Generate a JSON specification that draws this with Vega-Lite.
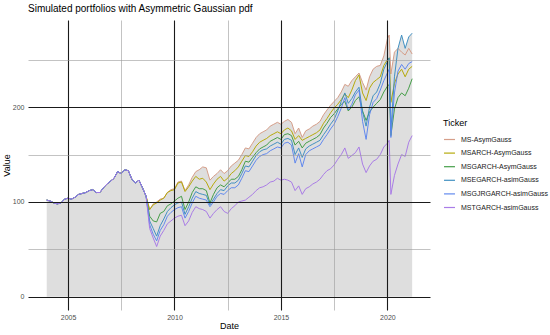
{
"$schema":"https://vega.github.io/schema/vega-lite/v6.json",
"width":402,"height":290,
"autosize":{"type":"none"},
"padding":{"left":28,"top":20,"right":120,"bottom":25},
"background":"white",
"title":{"text":"Simulated portfolios with Asymmetric Gaussian pdf","anchor":"start","frame":"group","fontSize":10,"fontWeight":"normal","font":"Liberation Sans","color":"black","offset":6},
"config":{"view":{"stroke":null},"axis":{"domain":false,"ticks":false,"labelFont":"Liberation Sans","labelFontSize":7,"labelColor":"#4d4d4d","titleFont":"Liberation Sans","titleFontSize":9,"titleFontWeight":"normal","titleColor":"black","gridOpacity":1,"labelOverlap":false,"labelFlush":false},"legend":{"labelFont":"Liberation Sans","titleFont":"Liberation Sans"}},
"datasets":{
"names":[{"k":"a","Ticker":"MS-AsymGauss"},{"k":"b","Ticker":"MSARCH-AsymGauss"},{"k":"c","Ticker":"MSGARCH-AsymGauss"},{"k":"e","Ticker":"MSEGARCH-asimGauss"},{"k":"f","Ticker":"MSGJRGARCH-asimGauss"},{"k":"g","Ticker":"MSTGARCH-asimGauss"}],
"p":[
{"d":"2004-01","k":"a","v":102},{"d":"2004-01","k":"b","v":102},{"d":"2004-01","k":"c","v":102},{"d":"2004-01","k":"e","v":102},{"d":"2004-01","k":"f","v":102},{"d":"2004-01","k":"g","v":102},
{"d":"2004-03","k":"a","v":101},{"d":"2004-03","k":"b","v":101},{"d":"2004-03","k":"c","v":101},{"d":"2004-03","k":"e","v":101},{"d":"2004-03","k":"f","v":101},{"d":"2004-03","k":"g","v":101},
{"d":"2004-05","k":"a","v":99},{"d":"2004-05","k":"b","v":99},{"d":"2004-05","k":"c","v":99},{"d":"2004-05","k":"e","v":99},{"d":"2004-05","k":"f","v":99},{"d":"2004-05","k":"g","v":99},
{"d":"2004-07","k":"a","v":98},{"d":"2004-07","k":"b","v":98},{"d":"2004-07","k":"c","v":98},{"d":"2004-07","k":"e","v":98},{"d":"2004-07","k":"f","v":98},{"d":"2004-07","k":"g","v":98},
{"d":"2004-09","k":"a","v":99},{"d":"2004-09","k":"b","v":99},{"d":"2004-09","k":"c","v":99},{"d":"2004-09","k":"e","v":99},{"d":"2004-09","k":"f","v":99},{"d":"2004-09","k":"g","v":99},
{"d":"2004-11","k":"a","v":103},{"d":"2004-11","k":"b","v":103},{"d":"2004-11","k":"c","v":103},{"d":"2004-11","k":"e","v":103},{"d":"2004-11","k":"f","v":103},{"d":"2004-11","k":"g","v":103},
{"d":"2005-01","k":"a","v":104},{"d":"2005-01","k":"b","v":104},{"d":"2005-01","k":"c","v":104},{"d":"2005-01","k":"e","v":104},{"d":"2005-01","k":"f","v":104},{"d":"2005-01","k":"g","v":104},
{"d":"2005-03","k":"a","v":103},{"d":"2005-03","k":"b","v":103},{"d":"2005-03","k":"c","v":103},{"d":"2005-03","k":"e","v":103},{"d":"2005-03","k":"f","v":103},{"d":"2005-03","k":"g","v":103},
{"d":"2005-05","k":"a","v":105},{"d":"2005-05","k":"b","v":105},{"d":"2005-05","k":"c","v":105},{"d":"2005-05","k":"e","v":105},{"d":"2005-05","k":"f","v":105},{"d":"2005-05","k":"g","v":105},
{"d":"2005-07","k":"a","v":108},{"d":"2005-07","k":"b","v":108},{"d":"2005-07","k":"c","v":108},{"d":"2005-07","k":"e","v":108},{"d":"2005-07","k":"f","v":108},{"d":"2005-07","k":"g","v":108},
{"d":"2005-09","k":"a","v":109},{"d":"2005-09","k":"b","v":109},{"d":"2005-09","k":"c","v":109},{"d":"2005-09","k":"e","v":109},{"d":"2005-09","k":"f","v":109},{"d":"2005-09","k":"g","v":109},
{"d":"2005-11","k":"a","v":110},{"d":"2005-11","k":"b","v":110},{"d":"2005-11","k":"c","v":110},{"d":"2005-11","k":"e","v":110},{"d":"2005-11","k":"f","v":110},{"d":"2005-11","k":"g","v":110},
{"d":"2006-01","k":"a","v":112},{"d":"2006-01","k":"b","v":112},{"d":"2006-01","k":"c","v":112},{"d":"2006-01","k":"e","v":112},{"d":"2006-01","k":"f","v":112},{"d":"2006-01","k":"g","v":112},
{"d":"2006-03","k":"a","v":113},{"d":"2006-03","k":"b","v":113},{"d":"2006-03","k":"c","v":113},{"d":"2006-03","k":"e","v":113},{"d":"2006-03","k":"f","v":113},{"d":"2006-03","k":"g","v":113},
{"d":"2006-05","k":"a","v":110},{"d":"2006-05","k":"b","v":110},{"d":"2006-05","k":"c","v":110},{"d":"2006-05","k":"e","v":110},{"d":"2006-05","k":"f","v":110},{"d":"2006-05","k":"g","v":110},
{"d":"2006-07","k":"a","v":110},{"d":"2006-07","k":"b","v":110},{"d":"2006-07","k":"c","v":110},{"d":"2006-07","k":"e","v":110},{"d":"2006-07","k":"f","v":110},{"d":"2006-07","k":"g","v":110},
{"d":"2006-09","k":"a","v":115},{"d":"2006-09","k":"b","v":115},{"d":"2006-09","k":"c","v":115},{"d":"2006-09","k":"e","v":115},{"d":"2006-09","k":"f","v":115},{"d":"2006-09","k":"g","v":115},
{"d":"2006-11","k":"a","v":119},{"d":"2006-11","k":"b","v":119},{"d":"2006-11","k":"c","v":119},{"d":"2006-11","k":"e","v":119},{"d":"2006-11","k":"f","v":119},{"d":"2006-11","k":"g","v":119},
{"d":"2007-01","k":"a","v":122},{"d":"2007-01","k":"b","v":122},{"d":"2007-01","k":"c","v":122},{"d":"2007-01","k":"e","v":122},{"d":"2007-01","k":"f","v":122},{"d":"2007-01","k":"g","v":122},
{"d":"2007-03","k":"a","v":125},{"d":"2007-03","k":"b","v":125},{"d":"2007-03","k":"c","v":125},{"d":"2007-03","k":"e","v":125},{"d":"2007-03","k":"f","v":125},{"d":"2007-03","k":"g","v":125},
{"d":"2007-05","k":"a","v":132},{"d":"2007-05","k":"b","v":132},{"d":"2007-05","k":"c","v":132},{"d":"2007-05","k":"e","v":132},{"d":"2007-05","k":"f","v":132},{"d":"2007-05","k":"g","v":132},
{"d":"2007-07","k":"a","v":130},{"d":"2007-07","k":"b","v":130},{"d":"2007-07","k":"c","v":130},{"d":"2007-07","k":"e","v":130},{"d":"2007-07","k":"f","v":130},{"d":"2007-07","k":"g","v":130},
{"d":"2007-09","k":"a","v":134},{"d":"2007-09","k":"b","v":134},{"d":"2007-09","k":"c","v":134},{"d":"2007-09","k":"e","v":134},{"d":"2007-09","k":"f","v":134},{"d":"2007-09","k":"g","v":134},
{"d":"2007-11","k":"a","v":133},{"d":"2007-11","k":"b","v":133},{"d":"2007-11","k":"c","v":133},{"d":"2007-11","k":"e","v":133},{"d":"2007-11","k":"f","v":133},{"d":"2007-11","k":"g","v":133},
{"d":"2008-01","k":"a","v":124},{"d":"2008-01","k":"b","v":124},{"d":"2008-01","k":"c","v":124},{"d":"2008-01","k":"e","v":124},{"d":"2008-01","k":"f","v":124},{"d":"2008-01","k":"g","v":124},
{"d":"2008-03","k":"a","v":120},{"d":"2008-03","k":"b","v":120},{"d":"2008-03","k":"c","v":120},{"d":"2008-03","k":"e","v":120},{"d":"2008-03","k":"f","v":120},{"d":"2008-03","k":"g","v":120},
{"d":"2008-05","k":"a","v":123},{"d":"2008-05","k":"b","v":123},{"d":"2008-05","k":"c","v":123},{"d":"2008-05","k":"e","v":123},{"d":"2008-05","k":"f","v":123},{"d":"2008-05","k":"g","v":123},
{"d":"2008-07","k":"a","v":115},{"d":"2008-07","k":"b","v":115},{"d":"2008-07","k":"c","v":115},{"d":"2008-07","k":"e","v":115},{"d":"2008-07","k":"f","v":115},{"d":"2008-07","k":"g","v":115},
{"d":"2008-09","k":"a","v":106},{"d":"2008-09","k":"b","v":106},{"d":"2008-09","k":"c","v":106},{"d":"2008-09","k":"e","v":106},{"d":"2008-09","k":"f","v":106},{"d":"2008-09","k":"g","v":106},
{"d":"2008-11","k":"a","v":92},{"d":"2008-11","k":"b","v":92},{"d":"2008-11","k":"c","v":85},{"d":"2008-11","k":"e","v":80},{"d":"2008-11","k":"f","v":76},{"d":"2008-11","k":"g","v":72},
{"d":"2009-01","k":"a","v":98},{"d":"2009-01","k":"b","v":97},{"d":"2009-01","k":"c","v":80},{"d":"2009-01","k":"e","v":72},{"d":"2009-01","k":"f","v":66},{"d":"2009-01","k":"g","v":62},
{"d":"2009-03","k":"a","v":100},{"d":"2009-03","k":"b","v":99},{"d":"2009-03","k":"c","v":79},{"d":"2009-03","k":"e","v":64},{"d":"2009-03","k":"f","v":59},{"d":"2009-03","k":"g","v":53},
{"d":"2009-05","k":"a","v":103},{"d":"2009-05","k":"b","v":102},{"d":"2009-05","k":"c","v":88},{"d":"2009-05","k":"e","v":75},{"d":"2009-05","k":"f","v":70},{"d":"2009-05","k":"g","v":64},
{"d":"2009-07","k":"a","v":104},{"d":"2009-07","k":"b","v":104},{"d":"2009-07","k":"c","v":90},{"d":"2009-07","k":"e","v":82},{"d":"2009-07","k":"f","v":76},{"d":"2009-07","k":"g","v":70},
{"d":"2009-09","k":"a","v":110},{"d":"2009-09","k":"b","v":110},{"d":"2009-09","k":"c","v":96},{"d":"2009-09","k":"e","v":90},{"d":"2009-09","k":"f","v":85},{"d":"2009-09","k":"g","v":77},
{"d":"2009-11","k":"a","v":113},{"d":"2009-11","k":"b","v":112},{"d":"2009-11","k":"c","v":98},{"d":"2009-11","k":"e","v":94},{"d":"2009-11","k":"f","v":89},{"d":"2009-11","k":"g","v":80},
{"d":"2010-01","k":"a","v":114},{"d":"2010-01","k":"b","v":113},{"d":"2010-01","k":"c","v":101},{"d":"2010-01","k":"e","v":97},{"d":"2010-01","k":"f","v":92},{"d":"2010-01","k":"g","v":83},
{"d":"2010-03","k":"a","v":121},{"d":"2010-03","k":"b","v":120},{"d":"2010-03","k":"c","v":104},{"d":"2010-03","k":"e","v":99},{"d":"2010-03","k":"f","v":94},{"d":"2010-03","k":"g","v":85},
{"d":"2010-05","k":"a","v":122},{"d":"2010-05","k":"b","v":121},{"d":"2010-05","k":"c","v":106},{"d":"2010-05","k":"e","v":100},{"d":"2010-05","k":"f","v":95},{"d":"2010-05","k":"g","v":86},
{"d":"2010-07","k":"a","v":112},{"d":"2010-07","k":"b","v":111},{"d":"2010-07","k":"c","v":92},{"d":"2010-07","k":"e","v":87},{"d":"2010-07","k":"f","v":83},{"d":"2010-07","k":"g","v":75},
{"d":"2010-09","k":"a","v":118},{"d":"2010-09","k":"b","v":116},{"d":"2010-09","k":"c","v":100},{"d":"2010-09","k":"e","v":95},{"d":"2010-09","k":"f","v":90},{"d":"2010-09","k":"g","v":80},
{"d":"2010-11","k":"a","v":126},{"d":"2010-11","k":"b","v":122},{"d":"2010-11","k":"c","v":110},{"d":"2010-11","k":"e","v":104},{"d":"2010-11","k":"f","v":99},{"d":"2010-11","k":"g","v":89},
{"d":"2011-01","k":"a","v":132},{"d":"2011-01","k":"b","v":127},{"d":"2011-01","k":"c","v":116},{"d":"2011-01","k":"e","v":111},{"d":"2011-01","k":"f","v":106},{"d":"2011-01","k":"g","v":95},
{"d":"2011-03","k":"a","v":134},{"d":"2011-03","k":"b","v":124},{"d":"2011-03","k":"c","v":114},{"d":"2011-03","k":"e","v":109},{"d":"2011-03","k":"f","v":104},{"d":"2011-03","k":"g","v":93},
{"d":"2011-05","k":"a","v":137},{"d":"2011-05","k":"b","v":125},{"d":"2011-05","k":"c","v":114},{"d":"2011-05","k":"e","v":108},{"d":"2011-05","k":"f","v":103},{"d":"2011-05","k":"g","v":92},
{"d":"2011-07","k":"a","v":136},{"d":"2011-07","k":"b","v":121},{"d":"2011-07","k":"c","v":112},{"d":"2011-07","k":"e","v":107},{"d":"2011-07","k":"f","v":102},{"d":"2011-07","k":"g","v":90},
{"d":"2011-09","k":"a","v":123},{"d":"2011-09","k":"b","v":113},{"d":"2011-09","k":"c","v":99},{"d":"2011-09","k":"e","v":97},{"d":"2011-09","k":"f","v":95},{"d":"2011-09","k":"g","v":83},
{"d":"2011-11","k":"a","v":127},{"d":"2011-11","k":"b","v":119},{"d":"2011-11","k":"c","v":108},{"d":"2011-11","k":"e","v":103},{"d":"2011-11","k":"f","v":100},{"d":"2011-11","k":"g","v":88},
{"d":"2012-01","k":"a","v":130},{"d":"2012-01","k":"b","v":124},{"d":"2012-01","k":"c","v":115},{"d":"2012-01","k":"e","v":109},{"d":"2012-01","k":"f","v":106},{"d":"2012-01","k":"g","v":92},
{"d":"2012-03","k":"a","v":134},{"d":"2012-03","k":"b","v":127},{"d":"2012-03","k":"c","v":118},{"d":"2012-03","k":"e","v":113},{"d":"2012-03","k":"f","v":109},{"d":"2012-03","k":"g","v":95},
{"d":"2012-05","k":"a","v":130},{"d":"2012-05","k":"b","v":122},{"d":"2012-05","k":"c","v":116},{"d":"2012-05","k":"e","v":112},{"d":"2012-05","k":"f","v":108},{"d":"2012-05","k":"g","v":90},
{"d":"2012-07","k":"a","v":133},{"d":"2012-07","k":"b","v":125},{"d":"2012-07","k":"c","v":120},{"d":"2012-07","k":"e","v":117},{"d":"2012-07","k":"f","v":112},{"d":"2012-07","k":"g","v":88},
{"d":"2012-09","k":"a","v":138},{"d":"2012-09","k":"b","v":130},{"d":"2012-09","k":"c","v":124},{"d":"2012-09","k":"e","v":120},{"d":"2012-09","k":"f","v":115},{"d":"2012-09","k":"g","v":93},
{"d":"2012-11","k":"a","v":141},{"d":"2012-11","k":"b","v":133},{"d":"2012-11","k":"c","v":124},{"d":"2012-11","k":"e","v":120},{"d":"2012-11","k":"f","v":115},{"d":"2012-11","k":"g","v":96},
{"d":"2013-01","k":"a","v":144},{"d":"2013-01","k":"b","v":137},{"d":"2013-01","k":"c","v":127},{"d":"2013-01","k":"e","v":123},{"d":"2013-01","k":"f","v":118},{"d":"2013-01","k":"g","v":100},
{"d":"2013-03","k":"a","v":150},{"d":"2013-03","k":"b","v":143},{"d":"2013-03","k":"c","v":134},{"d":"2013-03","k":"e","v":130},{"d":"2013-03","k":"f","v":125},{"d":"2013-03","k":"g","v":101},
{"d":"2013-05","k":"a","v":157},{"d":"2013-05","k":"b","v":149},{"d":"2013-05","k":"c","v":143},{"d":"2013-05","k":"e","v":138},{"d":"2013-05","k":"f","v":133},{"d":"2013-05","k":"g","v":102},
{"d":"2013-07","k":"a","v":156},{"d":"2013-07","k":"b","v":148},{"d":"2013-07","k":"c","v":142},{"d":"2013-07","k":"e","v":137},{"d":"2013-07","k":"f","v":132},{"d":"2013-07","k":"g","v":105},
{"d":"2013-09","k":"a","v":162},{"d":"2013-09","k":"b","v":153},{"d":"2013-09","k":"c","v":147},{"d":"2013-09","k":"e","v":143},{"d":"2013-09","k":"f","v":138},{"d":"2013-09","k":"g","v":108},
{"d":"2013-11","k":"a","v":168},{"d":"2013-11","k":"b","v":159},{"d":"2013-11","k":"c","v":152},{"d":"2013-11","k":"e","v":149},{"d":"2013-11","k":"f","v":144},{"d":"2013-11","k":"g","v":112},
{"d":"2014-01","k":"a","v":172},{"d":"2014-01","k":"b","v":163},{"d":"2014-01","k":"c","v":156},{"d":"2014-01","k":"e","v":153},{"d":"2014-01","k":"f","v":148},{"d":"2014-01","k":"g","v":115},
{"d":"2014-03","k":"a","v":174},{"d":"2014-03","k":"b","v":165},{"d":"2014-03","k":"c","v":158},{"d":"2014-03","k":"e","v":155},{"d":"2014-03","k":"f","v":150},{"d":"2014-03","k":"g","v":116},
{"d":"2014-05","k":"a","v":176},{"d":"2014-05","k":"b","v":167},{"d":"2014-05","k":"c","v":160},{"d":"2014-05","k":"e","v":156},{"d":"2014-05","k":"f","v":151},{"d":"2014-05","k":"g","v":118},
{"d":"2014-07","k":"a","v":180},{"d":"2014-07","k":"b","v":170},{"d":"2014-07","k":"c","v":164},{"d":"2014-07","k":"e","v":159},{"d":"2014-07","k":"f","v":154},{"d":"2014-07","k":"g","v":121},
{"d":"2014-09","k":"a","v":182},{"d":"2014-09","k":"b","v":172},{"d":"2014-09","k":"c","v":166},{"d":"2014-09","k":"e","v":161},{"d":"2014-09","k":"f","v":156},{"d":"2014-09","k":"g","v":122},
{"d":"2014-11","k":"a","v":184},{"d":"2014-11","k":"b","v":174},{"d":"2014-11","k":"c","v":168},{"d":"2014-11","k":"e","v":163},{"d":"2014-11","k":"f","v":158},{"d":"2014-11","k":"g","v":125},
{"d":"2015-01","k":"a","v":182},{"d":"2015-01","k":"b","v":172},{"d":"2015-01","k":"c","v":166},{"d":"2015-01","k":"e","v":161},{"d":"2015-01","k":"f","v":157},{"d":"2015-01","k":"g","v":123},
{"d":"2015-03","k":"a","v":185},{"d":"2015-03","k":"b","v":176},{"d":"2015-03","k":"c","v":171},{"d":"2015-03","k":"e","v":166},{"d":"2015-03","k":"f","v":162},{"d":"2015-03","k":"g","v":124},
{"d":"2015-05","k":"a","v":187},{"d":"2015-05","k":"b","v":178},{"d":"2015-05","k":"c","v":172},{"d":"2015-05","k":"e","v":167},{"d":"2015-05","k":"f","v":163},{"d":"2015-05","k":"g","v":123},
{"d":"2015-07","k":"a","v":184},{"d":"2015-07","k":"b","v":175},{"d":"2015-07","k":"c","v":170},{"d":"2015-07","k":"e","v":165},{"d":"2015-07","k":"f","v":160},{"d":"2015-07","k":"g","v":121},
{"d":"2015-09","k":"a","v":172},{"d":"2015-09","k":"b","v":166},{"d":"2015-09","k":"c","v":160},{"d":"2015-09","k":"e","v":150},{"d":"2015-09","k":"f","v":141},{"d":"2015-09","k":"g","v":112},
{"d":"2015-11","k":"a","v":178},{"d":"2015-11","k":"b","v":170},{"d":"2015-11","k":"c","v":164},{"d":"2015-11","k":"e","v":157},{"d":"2015-11","k":"f","v":151},{"d":"2015-11","k":"g","v":117},
{"d":"2016-01","k":"a","v":168},{"d":"2016-01","k":"b","v":165},{"d":"2016-01","k":"c","v":157},{"d":"2016-01","k":"e","v":147},{"d":"2016-01","k":"f","v":137},{"d":"2016-01","k":"g","v":108},
{"d":"2016-03","k":"a","v":175},{"d":"2016-03","k":"b","v":167},{"d":"2016-03","k":"c","v":162},{"d":"2016-03","k":"e","v":156},{"d":"2016-03","k":"f","v":150},{"d":"2016-03","k":"g","v":114},
{"d":"2016-05","k":"a","v":177},{"d":"2016-05","k":"b","v":169},{"d":"2016-05","k":"c","v":164},{"d":"2016-05","k":"e","v":159},{"d":"2016-05","k":"f","v":154},{"d":"2016-05","k":"g","v":116},
{"d":"2016-07","k":"a","v":180},{"d":"2016-07","k":"b","v":171},{"d":"2016-07","k":"c","v":166},{"d":"2016-07","k":"e","v":161},{"d":"2016-07","k":"f","v":156},{"d":"2016-07","k":"g","v":119},
{"d":"2016-09","k":"a","v":182},{"d":"2016-09","k":"b","v":173},{"d":"2016-09","k":"c","v":168},{"d":"2016-09","k":"e","v":163},{"d":"2016-09","k":"f","v":158},{"d":"2016-09","k":"g","v":121},
{"d":"2016-11","k":"a","v":185},{"d":"2016-11","k":"b","v":176},{"d":"2016-11","k":"c","v":171},{"d":"2016-11","k":"e","v":165},{"d":"2016-11","k":"f","v":160},{"d":"2016-11","k":"g","v":124},
{"d":"2017-01","k":"a","v":192},{"d":"2017-01","k":"b","v":183},{"d":"2017-01","k":"c","v":178},{"d":"2017-01","k":"e","v":171},{"d":"2017-01","k":"f","v":166},{"d":"2017-01","k":"g","v":129},
{"d":"2017-03","k":"a","v":197},{"d":"2017-03","k":"b","v":188},{"d":"2017-03","k":"c","v":183},{"d":"2017-03","k":"e","v":176},{"d":"2017-03","k":"f","v":171},{"d":"2017-03","k":"g","v":133},
{"d":"2017-05","k":"a","v":202},{"d":"2017-05","k":"b","v":194},{"d":"2017-05","k":"c","v":189},{"d":"2017-05","k":"e","v":182},{"d":"2017-05","k":"f","v":177},{"d":"2017-05","k":"g","v":135},
{"d":"2017-07","k":"a","v":206},{"d":"2017-07","k":"b","v":199},{"d":"2017-07","k":"c","v":193},{"d":"2017-07","k":"e","v":187},{"d":"2017-07","k":"f","v":182},{"d":"2017-07","k":"g","v":139},
{"d":"2017-09","k":"a","v":210},{"d":"2017-09","k":"b","v":203},{"d":"2017-09","k":"c","v":198},{"d":"2017-09","k":"e","v":196},{"d":"2017-09","k":"f","v":190},{"d":"2017-09","k":"g","v":145},
{"d":"2017-11","k":"a","v":216},{"d":"2017-11","k":"b","v":208},{"d":"2017-11","k":"c","v":203},{"d":"2017-11","k":"e","v":206},{"d":"2017-11","k":"f","v":199},{"d":"2017-11","k":"g","v":150},
{"d":"2018-01","k":"a","v":224},{"d":"2018-01","k":"b","v":214},{"d":"2018-01","k":"c","v":206},{"d":"2018-01","k":"e","v":215},{"d":"2018-01","k":"f","v":210},{"d":"2018-01","k":"g","v":157},
{"d":"2018-03","k":"a","v":222},{"d":"2018-03","k":"b","v":210},{"d":"2018-03","k":"c","v":196},{"d":"2018-03","k":"e","v":204},{"d":"2018-03","k":"f","v":197},{"d":"2018-03","k":"g","v":146},
{"d":"2018-05","k":"a","v":228},{"d":"2018-05","k":"b","v":218},{"d":"2018-05","k":"c","v":200},{"d":"2018-05","k":"e","v":209},{"d":"2018-05","k":"f","v":203},{"d":"2018-05","k":"g","v":149},
{"d":"2018-07","k":"a","v":232},{"d":"2018-07","k":"b","v":228},{"d":"2018-07","k":"c","v":207},{"d":"2018-07","k":"e","v":216},{"d":"2018-07","k":"f","v":213},{"d":"2018-07","k":"g","v":152},
{"d":"2018-09","k":"a","v":236},{"d":"2018-09","k":"b","v":234},{"d":"2018-09","k":"c","v":211},{"d":"2018-09","k":"e","v":221},{"d":"2018-09","k":"f","v":218},{"d":"2018-09","k":"g","v":158},
{"d":"2018-11","k":"a","v":226},{"d":"2018-11","k":"b","v":215},{"d":"2018-11","k":"c","v":196},{"d":"2018-11","k":"e","v":195},{"d":"2018-11","k":"f","v":185},{"d":"2018-11","k":"g","v":140},
{"d":"2019-01","k":"a","v":218},{"d":"2019-01","k":"b","v":207},{"d":"2019-01","k":"c","v":186},{"d":"2019-01","k":"e","v":180},{"d":"2019-01","k":"f","v":166},{"d":"2019-01","k":"g","v":131},
{"d":"2019-03","k":"a","v":232},{"d":"2019-03","k":"b","v":220},{"d":"2019-03","k":"c","v":195},{"d":"2019-03","k":"e","v":200},{"d":"2019-03","k":"f","v":192},{"d":"2019-03","k":"g","v":138},
{"d":"2019-05","k":"a","v":240},{"d":"2019-05","k":"b","v":226},{"d":"2019-05","k":"c","v":200},{"d":"2019-05","k":"e","v":212},{"d":"2019-05","k":"f","v":205},{"d":"2019-05","k":"g","v":143},
{"d":"2019-07","k":"a","v":243},{"d":"2019-07","k":"b","v":229},{"d":"2019-07","k":"c","v":204},{"d":"2019-07","k":"e","v":216},{"d":"2019-07","k":"f","v":209},{"d":"2019-07","k":"g","v":145},
{"d":"2019-09","k":"a","v":244},{"d":"2019-09","k":"b","v":232},{"d":"2019-09","k":"c","v":208},{"d":"2019-09","k":"e","v":225},{"d":"2019-09","k":"f","v":218},{"d":"2019-09","k":"g","v":150},
{"d":"2019-11","k":"a","v":254},{"d":"2019-11","k":"b","v":244},{"d":"2019-11","k":"c","v":216},{"d":"2019-11","k":"e","v":240},{"d":"2019-11","k":"f","v":228},{"d":"2019-11","k":"g","v":158},
{"d":"2020-01","k":"a","v":272},{"d":"2020-01","k":"b","v":250},{"d":"2020-01","k":"c","v":222},{"d":"2020-01","k":"e","v":248},{"d":"2020-01","k":"f","v":236},{"d":"2020-01","k":"g","v":162},
{"d":"2020-02","k":"a","v":276},{"d":"2020-02","k":"b","v":252},{"d":"2020-02","k":"c","v":224},{"d":"2020-02","k":"e","v":252},{"d":"2020-02","k":"f","v":240},{"d":"2020-02","k":"g","v":165},
{"d":"2020-03","k":"a","v":235},{"d":"2020-03","k":"b","v":205},{"d":"2020-03","k":"c","v":170},{"d":"2020-03","k":"e","v":175},{"d":"2020-03","k":"f","v":168},{"d":"2020-03","k":"g","v":108},
{"d":"2020-05","k":"a","v":258},{"d":"2020-05","k":"b","v":225},{"d":"2020-05","k":"c","v":198},{"d":"2020-05","k":"e","v":232},{"d":"2020-05","k":"f","v":215},{"d":"2020-05","k":"g","v":128},
{"d":"2020-07","k":"a","v":262},{"d":"2020-07","k":"b","v":235},{"d":"2020-07","k":"c","v":210},{"d":"2020-07","k":"e","v":262},{"d":"2020-07","k":"f","v":238},{"d":"2020-07","k":"g","v":140},
{"d":"2020-09","k":"a","v":258},{"d":"2020-09","k":"b","v":240},{"d":"2020-09","k":"c","v":215},{"d":"2020-09","k":"e","v":276},{"d":"2020-09","k":"f","v":245},{"d":"2020-09","k":"g","v":150},
{"d":"2020-11","k":"a","v":255},{"d":"2020-11","k":"b","v":232},{"d":"2020-11","k":"c","v":212},{"d":"2020-11","k":"e","v":262},{"d":"2020-11","k":"f","v":240},{"d":"2020-11","k":"g","v":148},
{"d":"2021-01","k":"a","v":262},{"d":"2021-01","k":"b","v":240},{"d":"2021-01","k":"c","v":220},{"d":"2021-01","k":"e","v":274},{"d":"2021-01","k":"f","v":246},{"d":"2021-01","k":"g","v":163},
{"d":"2021-03","k":"a","v":256},{"d":"2021-03","k":"b","v":243},{"d":"2021-03","k":"c","v":230},{"d":"2021-03","k":"e","v":278},{"d":"2021-03","k":"f","v":248},{"d":"2021-03","k":"g","v":170}
]},
"data":{"name":"p"},
"transform":[{"lookup":"k","from":{"data":{"name":"names"},"key":"k","fields":["Ticker"]}}],
"encoding":{"x":{"field":"d","type":"temporal","title":"Date",
 "scale":{"domain":[{"year":2003,"month":2,"date":14},{"year":2022,"month":1,"date":1}]},
 "axis":{"values":[{"year":2005,"month":1,"date":1},{"year":2007,"month":7,"date":2},{"year":2010,"month":1,"date":1},{"year":2012,"month":7,"date":2},{"year":2015,"month":1,"date":1},{"year":2017,"month":7,"date":2},{"year":2020,"month":1,"date":1}],
  "labelExpr":"month(datum.value)==0 ? timeFormat(datum.value,'%Y') : ''",
  "gridColor":{"condition":{"test":"month(datum.value)==0","value":"#1a1a1a"},"value":"#9a9a9a"},
  "gridWidth":{"condition":{"test":"month(datum.value)==0","value":1.1},"value":0.6},
  "labelPadding":3,"titlePadding":1,"zindex":1}}},
"layer":[
 {"mark":{"type":"area","color":"#dedede"},
  "encoding":{"y":{"aggregate":"max","field":"v","type":"quantitative","title":"Value",
    "scale":{"domain":[-13.9,291.9],"nice":false},
    "axis":{"values":[0,50,100,150,200,250],"labelExpr":"datum.value % 100 == 0 ? datum.label : ''",
     "gridColor":{"condition":{"test":"datum.value % 100 == 0","value":"#1a1a1a"},"value":"#9a9a9a"},
     "gridWidth":{"condition":{"test":"datum.value % 100 == 0","value":1.1},"value":0.6},
     "labelPadding":4,"titlePadding":1,"zindex":1}},
   "y2":{"datum":0}}},
 {"mark":{"type":"line","strokeWidth":1,"opacity":0.95},
  "encoding":{"y":{"field":"v","type":"quantitative","title":"Value","scale":{"domain":[-13.9,291.9],"nice":false}},
   "color":{"field":"Ticker","type":"nominal",
    "scale":{"domain":["MS-AsymGauss","MSARCH-AsymGauss","MSGARCH-AsymGauss","MSEGARCH-asimGauss","MSGJRGARCH-asimGauss","MSTGARCH-asimGauss"],
     "range":["#d49a84","#b3a600","#3d9a40","#3a8cc0","#5b84ee","#a677e6"]},
    "legend":{"orient":"none","legendX":415,"legendY":99,"title":"Ticker","titleFontSize":9,"titleFontWeight":"normal","titleColor":"black","labelFontSize":7,"labelColor":"#1a1a1a","symbolType":"stroke","symbolSize":120,"symbolStrokeWidth":1.2,"rowPadding":3.6,"titlePadding":5,"labelOffset":5,"padding":0}}}}
]
}
